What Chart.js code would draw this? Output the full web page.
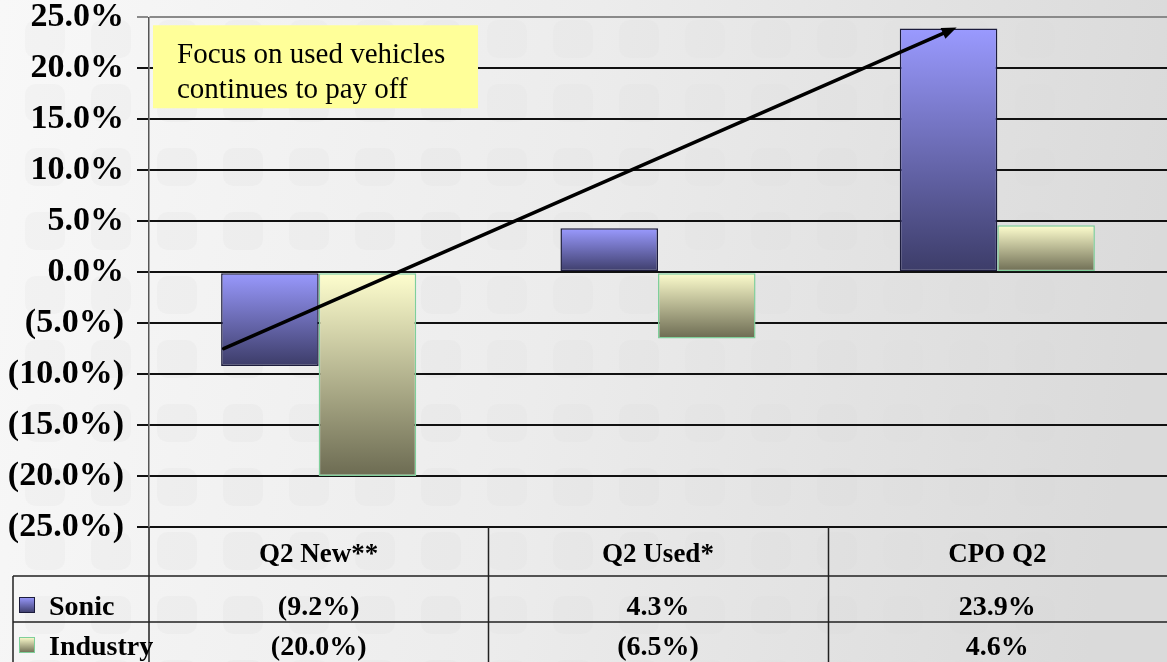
<!DOCTYPE html>
<html>
<head>
<meta charset="utf-8">
<script src="https://cdn.jsdelivr.net/npm/chart.js@4/dist/chart.umd.min.js"></script>
<style>
    html, body { margin: 0; padding: 0; background: #f0f0f0; }
    #wrap { width: 1167px; height: 662px; position: relative; }
</style>
</head>
<body>
<div id="wrap"><canvas id="growth-chart" width="1167" height="662"></canvas></div>
<script>
// Chart data
const categories = ['Q2 New**', 'Q2 Used*', 'CPO Q2'];
const seriesNames = ['Sonic', 'Industry'];
const sonicValues = [-9.2, 4.3, 23.9];
const industryValues = [-20.0, -6.5, 4.6];
const yMin = -25;
const yMax = 25;
const yStep = 5;

// Arrow annotation, in data units: [category index, percent]
const arrowStart = [-0.28, -7.5];
const arrowEnd = [1.88, 24.0];
const noteLines = ['Focus on used vehicles', 'continues to pay off'];

const SERIF = '"Liberation Serif", "Times New Roman", serif';
const sonicColors = ['#9a9aff', '#3c3c68'];
const industryColors = ['#ffffcf', '#6c6b52'];

function formatPct(v) {
    return v < 0 ? '(' + Math.abs(v).toFixed(1) + '%)' : v.toFixed(1) + '%';
}

// Vertical gradient spanning each bar from its top to its bottom
function barGradient(context, colors) {
    const chart = context.chart;
    const y = chart.scales.y;
    if (!y || !chart.chartArea || context.raw === undefined) return colors[0];
    const p0 = y.getPixelForValue(0);
    const p1 = y.getPixelForValue(context.raw);
    const top = Math.min(p0, p1);
    const bottom = Math.max(p0, p1) + 0.01;
    const g = chart.ctx.createLinearGradient(0, top, 0, bottom);
    g.addColorStop(0, colors[0]);
    g.addColorStop(1, colors[1]);
    return g;
}

// Slide background: soft gradient with faint rounded tiles
const backgroundPlugin = {
    id: 'slideBackground',
    beforeDraw(chart) {
        const ctx = chart.ctx;
        const w = chart.width, h = chart.height;
        ctx.save();
        const g = ctx.createLinearGradient(0, 0, w, h * 0.3);
        g.addColorStop(0, '#f8f8f8');
        g.addColorStop(0.5, '#ececec');
        g.addColorStop(1, '#dadada');
        ctx.fillStyle = g;
        ctx.fillRect(0, 0, w, h);
        for (let x = -41; x < w; x += 66) {
            const alpha = Math.max(0, 0.022 * (1 - x / w));
            ctx.fillStyle = 'rgba(0,0,0,' + alpha + ')';
            for (let y = 20; y < h; y += 64) {
                ctx.beginPath();
                ctx.roundRect(x, y, 40, 38, 10);
                ctx.fill();
            }
        }
        ctx.restore();
    }
};

// Yellow callout and trend arrow
const annotationPlugin = {
    id: 'notesAndArrow',
    afterDatasetsDraw(chart) {
        const ctx = chart.ctx;
        const x = chart.scales.x, y = chart.scales.y;
        const area = chart.chartArea;
        ctx.save();

        // callout box
        ctx.fillStyle = '#ffff99';
        ctx.fillRect(area.left + 4, area.top + 8, 325, 83);
        ctx.fillStyle = '#000';
        ctx.font = '29px ' + SERIF;
        ctx.textAlign = 'left';
        ctx.textBaseline = 'alphabetic';
        noteLines.forEach((line, i) => {
            ctx.fillText(line, area.left + 28, area.top + 46 + i * 35);
        });

        // arrow
        const x1 = x.getPixelForValue(arrowStart[0]), y1 = y.getPixelForValue(arrowStart[1]);
        const x2 = x.getPixelForValue(arrowEnd[0]), y2 = y.getPixelForValue(arrowEnd[1]);
        const ang = Math.atan2(y2 - y1, x2 - x1);
        const head = 16;
        ctx.strokeStyle = '#000';
        ctx.lineWidth = 3.5;
        ctx.lineCap = 'round';
        ctx.beginPath();
        ctx.moveTo(x1, y1);
        ctx.lineTo(x2 - Math.cos(ang) * head * 0.8, y2 - Math.sin(ang) * head * 0.8);
        ctx.stroke();
        ctx.fillStyle = '#000';
        ctx.beginPath();
        ctx.moveTo(x2, y2);
        ctx.lineTo(x2 - head * Math.cos(ang - 0.38), y2 - head * Math.sin(ang - 0.38));
        ctx.lineTo(x2 - head * Math.cos(ang + 0.38), y2 - head * Math.sin(ang + 0.38));
        ctx.closePath();
        ctx.fill();
        ctx.restore();
    }
};

// Data table under the axis (legend keys + values)
const dataTablePlugin = {
    id: 'dataTable',
    afterDraw(chart) {
        const ctx = chart.ctx;
        const x = chart.scales.x;
        const area = chart.chartArea;
        const bottom = chart.height;
        const tableLeft = 13;
        const row1 = area.bottom + 49;
        const row2 = row1 + 46;
        ctx.save();
        ctx.strokeStyle = '#222';
        ctx.lineWidth = 1.5;

        ctx.beginPath();
        [row1, row2].forEach(ry => {
            ctx.moveTo(tableLeft, ry);
            ctx.lineTo(chart.width, ry);
        });
        ctx.moveTo(tableLeft, row1);
        ctx.lineTo(tableLeft, bottom);
        ctx.moveTo(area.left, area.bottom);
        ctx.lineTo(area.left, bottom);
        for (let i = 0; i < categories.length - 1; i++) {
            const bx = Math.round(x.getPixelForValue(i + 0.5)) + 0.5;
            ctx.moveTo(bx, area.bottom);
            ctx.lineTo(bx, bottom);
        }
        ctx.stroke();

        const rows = [
            { name: seriesNames[0], values: sonicValues, colors: sonicColors, border: '#1c1c3c' },
            { name: seriesNames[1], values: industryValues, colors: industryColors, border: '#7fcf9a' }
        ];
        ctx.font = 'bold 28px ' + SERIF;
        ctx.fillStyle = '#000';
        ctx.textBaseline = 'alphabetic';
        rows.forEach((row, r) => {
            const base = row1 + 39 + r * 40;
            // legend key
            const ky = base - 18;
            const g = ctx.createLinearGradient(0, ky, 0, ky + 16);
            g.addColorStop(0, row.colors[0]);
            g.addColorStop(1, row.colors[1]);
            ctx.fillStyle = g;
            ctx.fillRect(19, ky, 16, 16);
            ctx.strokeStyle = row.border;
            ctx.lineWidth = 1;
            ctx.strokeRect(19.5, ky + 0.5, 15, 15);
            ctx.fillStyle = '#000';
            ctx.textAlign = 'left';
            ctx.fillText(row.name, 49, base);
            ctx.textAlign = 'center';
            row.values.forEach((v, i) => {
                ctx.fillText(formatPct(v), x.getPixelForValue(i), base);
            });
        });
        ctx.restore();
    }
};

const chart = new Chart(document.getElementById('growth-chart'), {
    type: 'bar',
    data: {
        labels: categories,
        datasets: [{
            label: seriesNames[0],
            data: sonicValues,
            backgroundColor: (c) => barGradient(c, sonicColors),
            borderColor: '#1c1c3c',
            borderWidth: 1.5,
            borderSkipped: false
        }, {
            label: seriesNames[1],
            data: industryValues,
            backgroundColor: (c) => barGradient(c, industryColors),
            borderColor: '#7fcf9a',
            borderWidth: 1.5,
            borderSkipped: false
        }]
    },
    options: {
        responsive: false,
        animation: false,
        devicePixelRatio: 1,
        layout: { padding: 0 },
        datasets: {
            bar: { categoryPercentage: 0.575, barPercentage: 1.0 }
        },
        plugins: {
            legend: { display: false },
            tooltip: { enabled: false }
        },
        scales: {
            x: {
                grid: { display: false, drawTicks: false },
                border: { display: false },
                ticks: {
                    color: '#000',
                    padding: 12,
                    maxRotation: 0,
                    autoSkip: false,
                    font: { family: SERIF, size: 27, weight: 'bold' }
                },
                afterFit: (scale) => { scale.height = 135; }
            },
            y: {
                min: yMin,
                max: yMax,
                ticks: {
                    stepSize: yStep,
                    color: '#000',
                    padding: 13,
                    font: { family: SERIF, size: 34, weight: 'bold', lineHeight: 0.25 },
                    callback: (v) => formatPct(v)
                },
                grid: {
                    color: (c) => (c.tick && c.tick.value === yMax ? '#8a8a8a' : '#111'),
                    lineWidth: 2,
                    tickLength: 12
                },
                border: { color: '#555', width: 1.5 },
                afterFit: (scale) => { scale.width = 149; }
            }
        }
    },
    plugins: [backgroundPlugin, annotationPlugin, dataTablePlugin]
});
</script>
</body>
</html>
